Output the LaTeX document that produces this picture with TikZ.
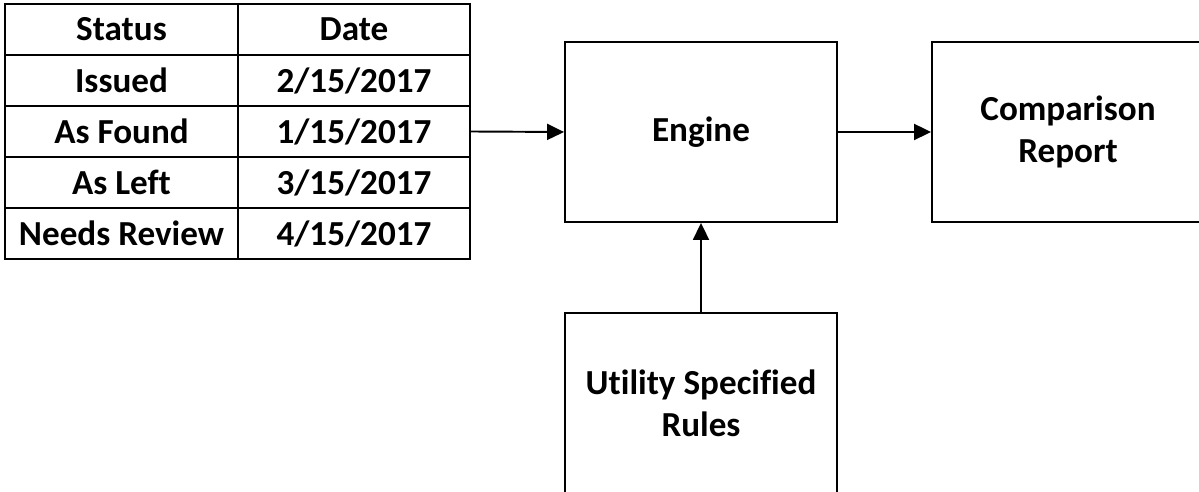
\documentclass[tikz,border=0pt]{standalone}
\usepackage{fontspec}
\setmainfont{Carlito}[Ligatures=NoCommon]
\usetikzlibrary{arrows.meta}

\tikzset{
  cell/.style={draw, line width=1.1pt, minimum width=4.65cm, minimum height=1.02cm,
    inner sep=0pt, font=\bfseries\fontsize{20}{24}\selectfont},
  block/.style={draw, line width=1.1pt, minimum width=5.44cm, minimum height=3.6cm,
    align=center, font=\bfseries\fontsize{20}{24}\selectfont},
  flow/.style={line width=1.1pt, -{Triangle[length=0.34cm,width=0.32cm]}}
}

\begin{document}
\begin{tikzpicture}[x=0.02cm, y=-0.02cm]
  \useasboundingbox (0,0) rectangle (1199,492);

  % status table
  \node [cell] (hstat) at (121.5, 29.5) {Status};
  \node [cell] (hdate) at (354, 29.5) {Date};
  \node [cell] (issued) at (121.5, 80.5) {Issued};
  \node [cell] (issueddate) at (354, 80.5) {2/15/2017};
  \node [cell] (found) at (121.5, 131.5) {As Found};
  \node [cell] (founddate) at (354, 131.5) {1/15/2017};
  \node [cell] (left) at (121.5, 182.5) {As Left};
  \node [cell] (leftdate) at (354, 182.5) {3/15/2017};
  \node [cell] (review) at (121.5, 233.5) {Needs Review};
  \node [cell] (reviewdate) at (354, 233.5) {4/15/2017};

  % processing blocks
  \node [block] (engine) at (701, 132) {Engine};
  \node [block] (report) at (1068, 132) {Comparison\\Report};
  \node [block] (rules) at (701, 403) {Utility Specified\\Rules};

  \draw [flow] (founddate.east) -- (engine.west);
  \draw [flow] (engine.east) -- (report.west);
  \draw [flow] (rules.north) -- (engine.south);
\end{tikzpicture}
\end{document}
